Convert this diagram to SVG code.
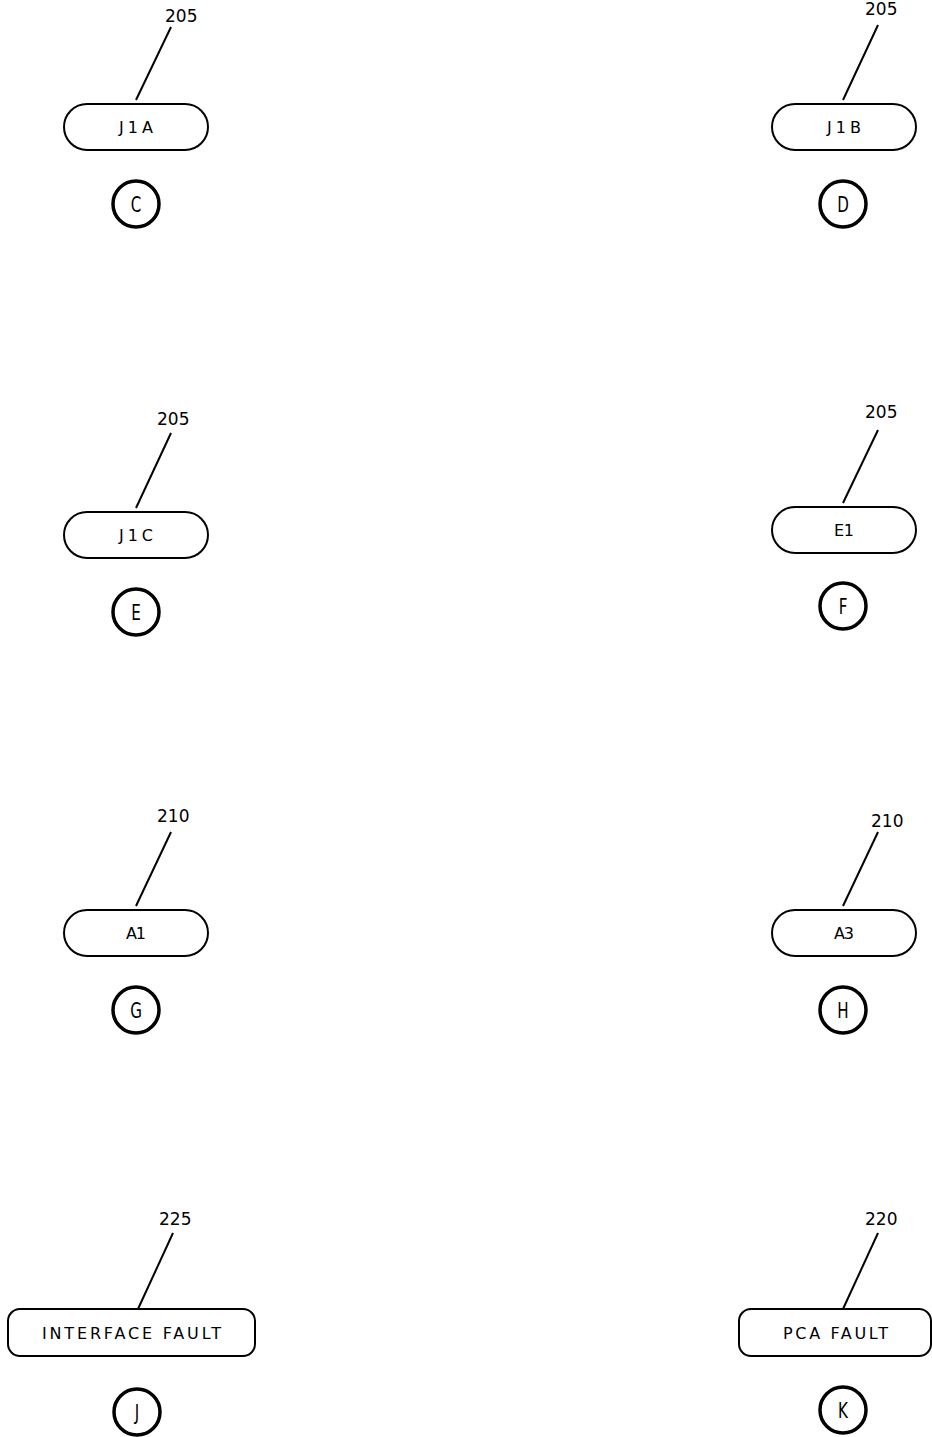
<svg xmlns="http://www.w3.org/2000/svg" width="932" height="1437" viewBox="0 0 932 1437">
<style>
.pill{fill:#fff;stroke:#000;stroke-width:2}
.circ{fill:#fff;stroke:#000;stroke-width:3.5}
.lead{stroke:#000;stroke-width:2;fill:none}
.ptxt{font-family:"DejaVu Sans",sans-serif;font-size:16px;fill:#000;text-anchor:middle}
.lbl{font-family:"DejaVu Sans",sans-serif;font-size:17px;fill:#000}
.ctxt{font-family:"DejaVu Sans",sans-serif;font-size:21px;fill:#000;text-anchor:middle}
</style>
<rect width="932" height="1437" fill="#fff"/>
<g id="connectors">
<line class="lead" x1="136" y1="100" x2="171" y2="27"/>
<line class="lead" x1="843" y1="100" x2="878" y2="25"/>
<line class="lead" x1="136" y1="508" x2="171" y2="433"/>
<line class="lead" x1="843" y1="503" x2="878" y2="430"/>
<line class="lead" x1="136" y1="906" x2="171" y2="832"/>
<line class="lead" x1="843" y1="906" x2="878" y2="832"/>
<line class="lead" x1="138" y1="1309" x2="173" y2="1233"/>
<line class="lead" x1="843" y1="1309" x2="878" y2="1233"/>
</g>
<g id="labels">
<text class="lbl" x="165" y="22">205</text>
<text class="lbl" x="865" y="15">205</text>
<text class="lbl" x="157" y="425">205</text>
<text class="lbl" x="865" y="418">205</text>
<text class="lbl" x="157" y="822">210</text>
<text class="lbl" x="871" y="827">210</text>
<text class="lbl" x="159" y="1225">225</text>
<text class="lbl" x="865" y="1225">220</text>
</g>
<g id="J1A">
<rect class="pill" x="64" y="104" width="144" height="46" rx="23"/>
<text class="ptxt" x="136" y="133" textLength="34" lengthAdjust="spacing">J1A</text>
</g>
<g id="J1B">
<rect class="pill" x="772" y="104" width="144" height="46" rx="23"/>
<text class="ptxt" x="844" y="133" textLength="34" lengthAdjust="spacing">J1B</text>
</g>
<g id="C"><circle class="circ" cx="136" cy="204" r="23"/><text class="ctxt" x="136" y="212" transform="translate(136 0) scale(0.72 1) translate(-136 0)">C</text></g>
<g id="D"><circle class="circ" cx="843" cy="204" r="23"/><text class="ctxt" x="843" y="212" transform="translate(843 0) scale(0.72 1) translate(-843 0)">D</text></g>
<g id="J1C">
<rect class="pill" x="64" y="512" width="144" height="46" rx="23"/>
<text class="ptxt" x="136" y="541" textLength="34" lengthAdjust="spacing">J1C</text>
</g>
<g id="E1">
<rect class="pill" x="772" y="507" width="144" height="46" rx="23"/>
<text class="ptxt" x="844" y="536" textLength="20" lengthAdjust="spacing">E1</text>
</g>
<g id="E"><circle class="circ" cx="136" cy="612" r="23"/><text class="ctxt" x="136" y="620" transform="translate(136 0) scale(0.72 1) translate(-136 0)">E</text></g>
<g id="F"><circle class="circ" cx="843" cy="606" r="23"/><text class="ctxt" x="843" y="614" transform="translate(843 0) scale(0.72 1) translate(-843 0)">F</text></g>
<g id="A1">
<rect class="pill" x="64" y="910" width="144" height="46" rx="23"/>
<text class="ptxt" x="136" y="939" textLength="20" lengthAdjust="spacing">A1</text>
</g>
<g id="A3">
<rect class="pill" x="772" y="910" width="144" height="46" rx="23"/>
<text class="ptxt" x="844" y="939" textLength="20" lengthAdjust="spacing">A3</text>
</g>
<g id="G"><circle class="circ" cx="136" cy="1010" r="23"/><text class="ctxt" x="136" y="1018" transform="translate(136 0) scale(0.72 1) translate(-136 0)">G</text></g>
<g id="H"><circle class="circ" cx="843" cy="1010" r="23"/><text class="ctxt" x="843" y="1018" transform="translate(843 0) scale(0.72 1) translate(-843 0)">H</text></g>
<g id="INTERFACE_FAULT">
<rect class="pill" x="8" y="1309" width="247" height="47" rx="12"/>
<text class="ptxt" x="131.5" y="1339" textLength="179" lengthAdjust="spacing">INTERFACE FAULT</text>
</g>
<g id="PCA_FAULT">
<rect class="pill" x="739" y="1309" width="192" height="47" rx="12"/>
<text class="ptxt" x="835.5" y="1339" textLength="105" lengthAdjust="spacing">PCA FAULT</text>
</g>
<g id="J"><circle class="circ" cx="137" cy="1412" r="23"/><text class="ctxt" x="137" y="1420" transform="translate(137 0) scale(0.72 1) translate(-137 0)">J</text></g>
<g id="K"><circle class="circ" cx="843" cy="1410" r="23"/><text class="ctxt" x="843" y="1418" transform="translate(843 0) scale(0.72 1) translate(-843 0)">K</text></g>
</svg>
